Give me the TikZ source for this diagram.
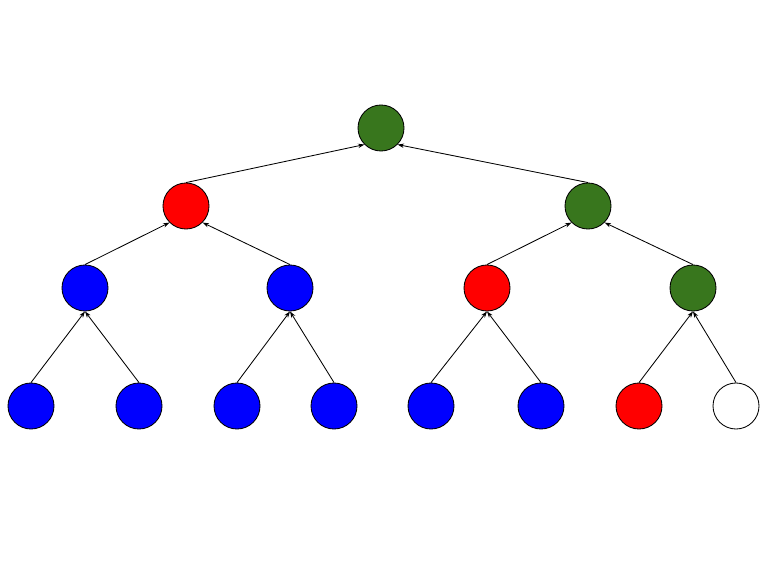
\documentclass[tikz,border=0pt]{standalone}
\usepackage{xcolor}
\usepackage{tikz}
\usetikzlibrary{arrows.meta}
\definecolor{ink}{HTML}{000000}
\definecolor{leafblue}{HTML}{0000FF}
\definecolor{hotred}{HTML}{FF0000}
\definecolor{darkgreen}{HTML}{38761D}
\tikzset{
  >={Stealth[length=1.6mm,width=1.1mm]},
  vertex/.style={circle,minimum size=1.15cm,inner sep=0pt,draw=ink,line width=.6pt},
  blue/.style={vertex,fill=leafblue},
  red/.style={vertex,fill=hotred},
  green/.style={vertex,fill=darkgreen},
  empty/.style={vertex,fill=white},
  edge/.style={->,line width=.6pt,color=ink},
}
\begin{document}
\begin{tikzpicture}[x=0.025cm,y=-0.025cm]
  \useasboundingbox (0,0) rectangle (768,576);

  % root and inner levels
  \node[green] (r) at (381,128) {};
  \node[red]   (a) at (186,206) {};
  \node[green] (b) at (588,206) {};
  \node[blue]  (aa) at (85,288) {};
  \node[blue]  (ab) at (290,288) {};
  \node[red]   (ba) at (487,288) {};
  \node[green] (bb) at (693,288) {};

  % leaves
  \foreach \name/\x/\kind in {aaa/31/blue,aab/139/blue,aba/237/blue,abb/334/blue,
                              baa/431/blue,bab/541/blue,bba/639/red,bbb/736/empty}{
    \node[\kind] (\name) at (\x,406) {};
  }

  % child -> parent
  \draw[edge] (a.north) -- (r.south west);
  \draw[edge] (b.north) -- (r.south east);
  \draw[edge] (aa.north) -- (a.south west);
  \draw[edge] (ab.north) -- (a.south east);
  \draw[edge] (ba.north) -- (b.south west);
  \draw[edge] (bb.north) -- (b.south east);
  \foreach \p in {aa,ab,ba,bb}{
    \draw[edge] (\p a.north) -- (\p.south);
    \draw[edge] (\p b.north) -- (\p.south);
  }
\end{tikzpicture}
\end{document}
